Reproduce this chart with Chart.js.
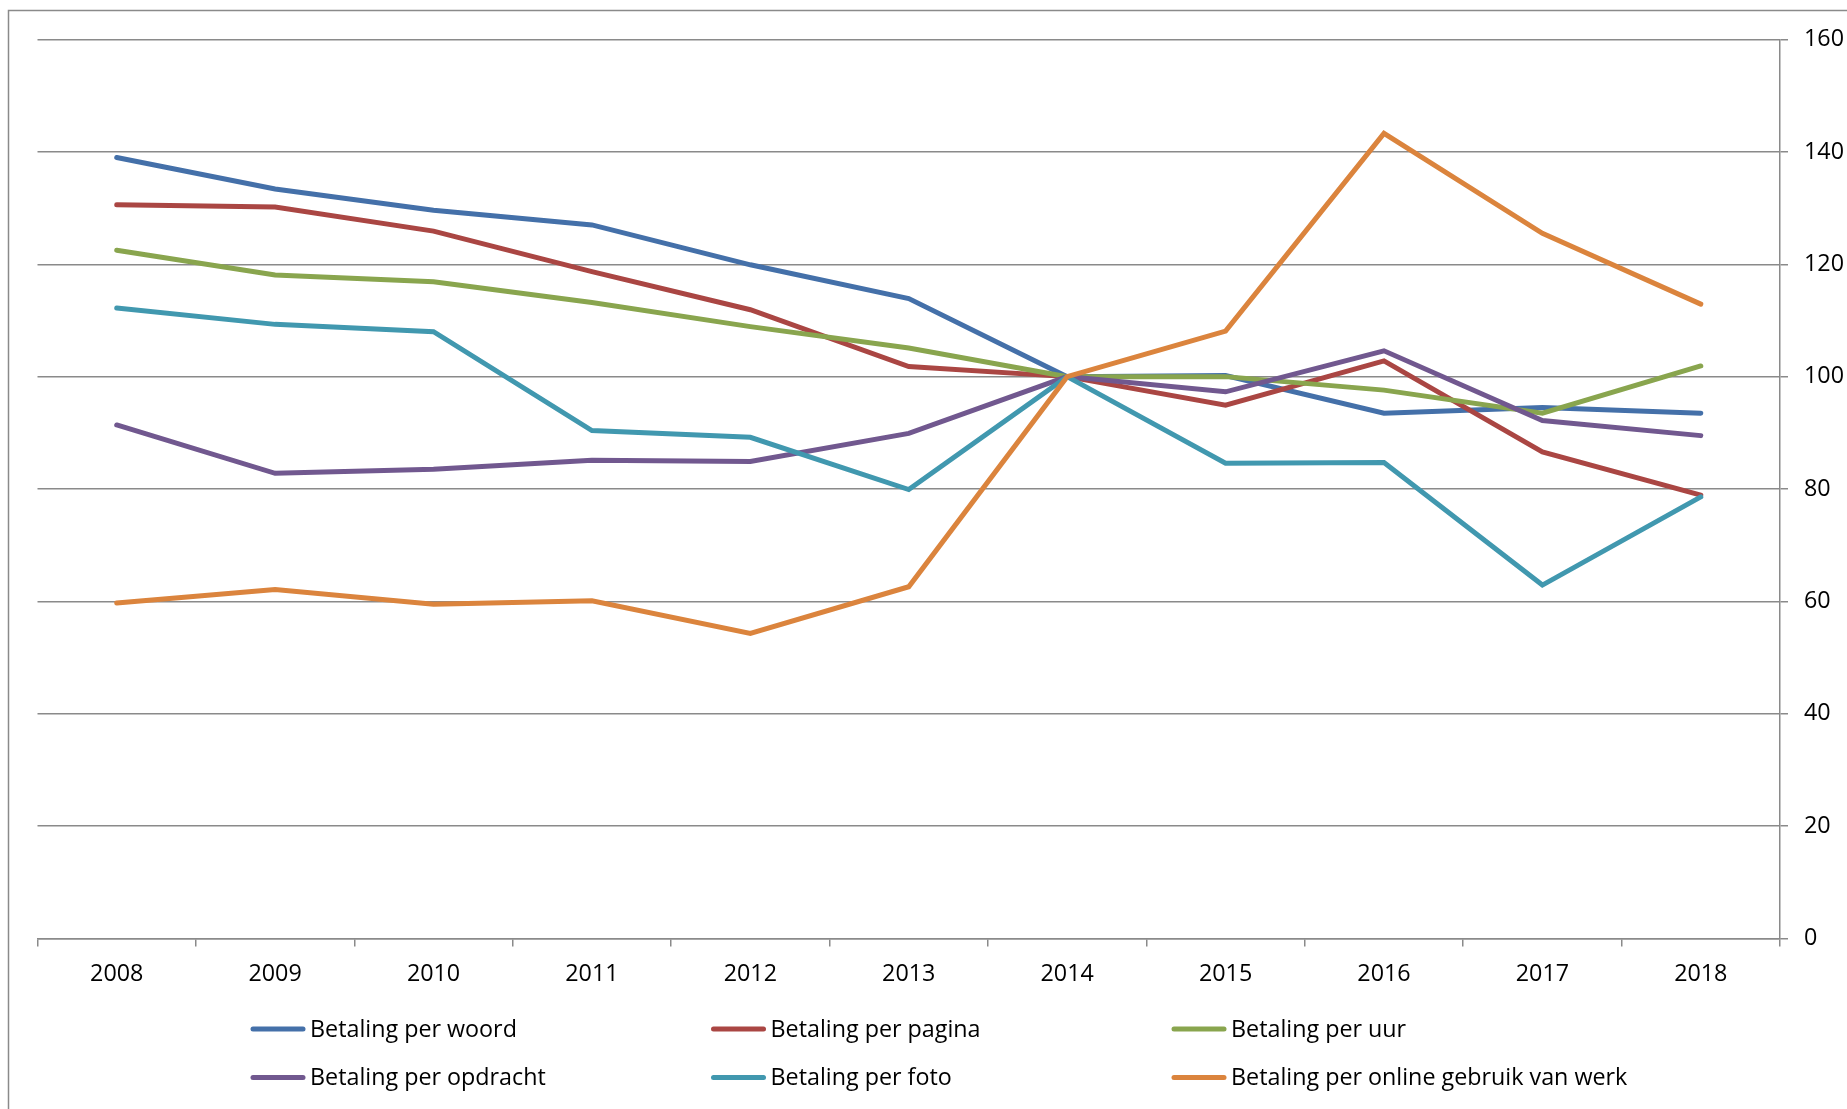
<!DOCTYPE html>
<html>
<head>
<meta charset="utf-8">
<script src="https://cdn.jsdelivr.net/npm/chart.js@4/dist/chart.umd.min.js"></script>
<style>
  html, body { margin: 0; padding: 0; background: #fff; }
  #wrap { width: 1847px; height: 1109px; position: relative; }
</style>
</head>
<body>
<div id="wrap"><canvas id="betalingChart"></canvas></div>
<script>
const years = ['2008', '2009', '2010', '2011', '2012', '2013', '2014', '2015', '2016', '2017', '2018'];

const perWoord    = [139.0, 133.4, 129.6, 127.0, 119.9, 113.9, 100, 100.2, 93.5, 94.5, 93.5];
const perPagina   = [130.6, 130.2, 125.9, 118.7, 111.9, 101.8, 100, 94.9, 102.8, 86.6, 78.9];
const perUur      = [122.5, 118.1, 116.9, 113.2, 108.9, 105.1, 100, 100.0, 97.6, 93.5, 101.9];
const perOpdracht = [91.4, 82.8, 83.5, 85.1, 84.9, 89.9, 100, 97.3, 104.6, 92.2, 89.5];
const perFoto     = [112.2, 109.3, 108.0, 90.4, 89.2, 79.9, 100, 84.6, 84.7, 62.9, 78.6];
const perOnline   = [59.7, 62.1, 59.5, 60.1, 54.3, 62.6, 100, 108.1, 143.3, 125.5, 112.9];

const seriesNames = [
    'Betaling per woord',
    'Betaling per pagina',
    'Betaling per uur',
    'Betaling per opdracht',
    'Betaling per foto',
    'Betaling per online gebruik van werk'
];
const seriesValues = [perWoord, perPagina, perUur, perOpdracht, perFoto, perOnline];
const seriesColors = ['#4470a9', '#aa4643', '#89a54e', '#71588f', '#4198af', '#db843d'];

const yTicks = [0, 20, 40, 60, 80, 100, 120, 140, 160];

const FONT = "'Open Sans', 'Liberation Sans', sans-serif";
const GRID = '#8a8a8a';

// outer frame like the spreadsheet chart border
const framePlugin = {
    id: 'frame',
    beforeDraw(chart) {
        const ctx = chart.ctx;
        ctx.save();
        ctx.fillStyle = '#fff';
        ctx.fillRect(0, 0, chart.width, chart.height);
        ctx.strokeStyle = GRID;
        ctx.lineWidth = 1.5;
        ctx.strokeRect(8.5, 10.5, chart.width + 20, chart.height + 20);
        ctx.restore();
    }
};

// legend in a 3-column grid under the axis
const gridLegend = {
    id: 'gridLegend',
    afterDraw(chart) {
        const ctx = chart.ctx;
        const xScale = chart.scales.x;
        const startX = 251, colStep = 460.5, swatch = 54, gap = 5;
        const row0 = xScale.bottom + 30.5, rowStep = 48.5;
        ctx.save();
        ctx.font = '23.3px ' + FONT;
        ctx.textBaseline = 'middle';
        ctx.textAlign = 'left';
        chart.data.datasets.forEach((ds, i) => {
            const x = startX + (i % 3) * colStep;
            const y = row0 + Math.floor(i / 3) * rowStep;
            ctx.strokeStyle = ds.borderColor;
            ctx.lineWidth = 5;
            ctx.lineCap = 'round';
            ctx.beginPath();
            ctx.moveTo(x + 2, y);
            ctx.lineTo(x + swatch - 2, y);
            ctx.stroke();
            ctx.fillStyle = '#000';
            ctx.fillText(ds.label, x + swatch + gap, y + 1);
        });
        ctx.restore();
    }
};

const datasets = seriesNames.map((name, i) => ({
    label: name,
    data: seriesValues[i],
    borderColor: seriesColors[i],
    backgroundColor: seriesColors[i],
    borderWidth: 5,
    borderCapStyle: 'round',
    tension: 0,
    pointRadius: 0,
    fill: false,
    order: seriesNames.length - i
}));

const config = {
    type: 'line',
    data: { labels: years, datasets: datasets },
    options: {
        responsive: false,
        animation: false,
        layout: { padding: { left: 37.5, top: 39.5, right: 0, bottom: 110.5 } },
        plugins: {
            legend: { display: false },
            tooltip: { enabled: false }
        },
        scales: {
            x: {
                type: 'category',
                offset: true,
                grid: {
                    offset: true,
                    drawOnChartArea: false,
                    drawTicks: true,
                    tickLength: 8,
                    color: GRID,
                    lineWidth: 1.5
                },
                border: { display: true, color: GRID, width: 1.5 },
                ticks: {
                    color: '#000',
                    font: { family: FONT, size: 23.3 },
                    padding: 14,
                    maxRotation: 0,
                    autoSkip: false
                },
                afterFit(scale) { scale.height = 60; }
            },
            y: {
                position: 'right',
                min: 0,
                max: 160,
                afterBuildTicks(scale) {
                    scale.ticks = yTicks.map(v => ({ value: v }));
                },
                grid: {
                    color: GRID,
                    lineWidth: 1.5,
                    drawTicks: true,
                    tickLength: 8
                },
                border: { display: true, color: GRID, width: 1.5 },
                ticks: {
                    color: '#000',
                    font: { family: FONT, size: 23.3 },
                    padding: 16
                },
                afterFit(scale) { scale.width = 67; }
            }
        }
    },
    plugins: [framePlugin, gridLegend]
};

const canvas = document.getElementById('betalingChart');
canvas.width = 1847;
canvas.height = 1109;
new Chart(canvas, config);
</script>
</body>
</html>
